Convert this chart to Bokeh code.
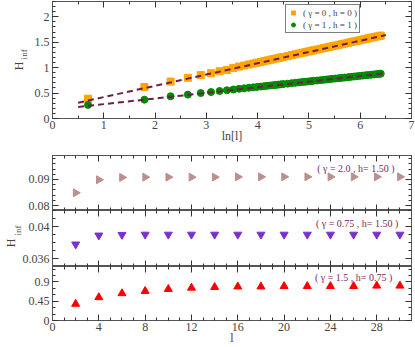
import math
import numpy as np
from bokeh.plotting import figure
from bokeh.models import Range1d, LinearAxis, FixedTicker, Legend, LegendItem, Label
from bokeh.layouts import column
from bokeh.embed import file_html
from bokeh.resources import INLINE

# ---------------- data ----------------
# top panel: subsystem sizes l and H_inf values
l_top = [2, 6, 10, 14, 18, 22, 26, 30, 34, 38, 42, 46, 50, 54, 58, 62, 66, 70, 74, 78,
         82, 86, 90, 98, 106, 114, 122, 130, 138, 146, 154, 162, 174, 186, 198, 210,
         222, 234, 250, 266, 282, 298, 318, 338, 358, 378, 402, 426, 450, 474, 502,
         530, 558, 586, 602]
h_g0 = [0.39, 0.62, 0.725, 0.80, 0.855, 0.89, 0.93, 0.955, 0.995, 1.020, 1.042, 1.062,
        1.080, 1.097, 1.113, 1.128, 1.142, 1.155, 1.167, 1.179, 1.190, 1.200, 1.210,
        1.229, 1.246, 1.262, 1.277, 1.291, 1.304, 1.317, 1.329, 1.340, 1.356, 1.370,
        1.384, 1.397, 1.409, 1.421, 1.435, 1.449, 1.462, 1.474, 1.489, 1.502, 1.515,
        1.527, 1.540, 1.553, 1.565, 1.577, 1.590, 1.601, 1.613, 1.624, 1.629]
h_g1 = [0.267, 0.37, 0.437, 0.47, 0.50, 0.52, 0.54, 0.555, 0.571, 0.583, 0.594, 0.604,
        0.612, 0.621, 0.628, 0.636, 0.643, 0.649, 0.655, 0.661, 0.666, 0.671, 0.676,
        0.685, 0.694, 0.701, 0.709, 0.716, 0.722, 0.728, 0.734, 0.740, 0.747, 0.754,
        0.761, 0.767, 0.774, 0.779, 0.786, 0.793, 0.799, 0.805, 0.812, 0.819, 0.825,
        0.831, 0.838, 0.844, 0.850, 0.855, 0.862, 0.867, 0.873, 0.878, 0.881]
fit_x = [0.5, 6.5]
fit_g0 = [0.31, 1.64]
fit_g1 = [0.227, 0.89]

# bottom panels
l_bot = [2, 4, 6, 8, 10, 12, 14, 16, 18, 20, 22, 24, 26, 28, 30]
h_a = [0.0849, 0.0899, 0.0908, 0.0909, 0.0909, 0.0909, 0.0909, 0.091, 0.091, 0.091,
       0.091, 0.091, 0.091, 0.091, 0.091]
h_b = [0.03777, 0.03889, 0.03897, 0.0390, 0.0390, 0.0390, 0.0390, 0.0390, 0.0390,
       0.0390, 0.0390, 0.0390, 0.0390, 0.0390, 0.0390]
h_c = [0.386, 0.54, 0.633, 0.686, 0.732, 0.762, 0.778, 0.79, 0.79, 0.80, 0.80, 0.80,
       0.80, 0.81, 0.81]

# ticks
top_x_ticks = [0, 1, 2, 3, 4, 5, 6, 7]
top_x_labels = ["0", "1", "2", "3", "4", "5", "6", "7"]
top_y_ticks = [0, 0.5, 1, 1.5, 2]
top_y_labels = ["0", "0.5", "1", "1.5", "2"]
bot_x_ticks = [0, 4, 8, 12, 16, 20, 24, 28]
bot_x_labels = ["0", "4", "8", "12", "16", "20", "24", "28"]
a_ticks = [0.08, 0.09]
a_labels = ["0.08", "0.09"]
b_ticks = [0.036, 0.04]
b_labels = ["0.036", "0.04"]
c_ticks = [0, 0.45, 0.9]
c_labels = ["0", "0.45", "0.9"]

leg_g0 = "( γ = 0 , h = 0 )"
leg_g1 = "( γ = 1 , h = 1 )"
txt_a = "( γ = 2.0 , h= 1.50 )"
txt_b = "( γ = 0.75 , h= 1.50 )"
txt_c = "( γ = 1.5 , h= 0.75 )"
x_title_top = "ln[l]"
x_title_bot = "l"
y_main = "H"
y_sub = "inf"

# ---------------- style ----------------
SERIF = "Liberation Serif"
AXC = "#555555"
TICKC = "#333333"
FITC = "#6e1d4e"
TXTC = "#7b1f5a"
NB = "\u00a0"


def minor(lo, hi, step):
    return [float(v) for v in np.round(np.arange(lo, hi + step / 2, step), 5)]


def style_axis(ax, ticks, labels, minor_ticks, standoff=3):
    ax.ticker = FixedTicker(ticks=ticks, minor_ticks=minor_ticks)
    ax.major_tick_in = 6
    ax.major_tick_out = 0
    ax.minor_tick_in = 3
    ax.minor_tick_out = 0
    ax.axis_line_color = AXC
    ax.major_tick_line_color = TICKC
    ax.minor_tick_line_color = TICKC
    ax.major_label_overrides = dict(zip(ticks, labels))
    ax.major_label_text_font = SERIF
    ax.major_label_text_font_size = "12px"
    ax.major_label_standoff = standoff


def mirror(p, side, ticks, minor_ticks):
    # label-free tick rows on frame edges
    for pos, ln in ((ticks, 6), (minor_ticks, 3)):
        ax = LinearAxis(ticker=FixedTicker(ticks=[], minor_ticks=pos))
        ax.minor_tick_in = ln
        ax.minor_tick_out = 0
        ax.major_tick_in = 0
        ax.major_tick_out = 0
        ax.major_label_standoff = 0
        ax.axis_line_color = AXC
        ax.minor_tick_line_color = TICKC
        p.add_layout(ax, side)


def y_title(p, main_axis, sub_text, sub_standoff, h_text, h_standoff):
    # subscript as the axis label of the tick axis, "H" on an outer tick-free axis
    main_axis.axis_label = sub_text
    main_axis.axis_label_text_font = SERIF
    main_axis.axis_label_text_font_size = "9px"
    main_axis.axis_label_text_font_style = "normal"
    main_axis.axis_label_standoff = sub_standoff
    hx = LinearAxis(ticker=FixedTicker(ticks=[], minor_ticks=[]))
    hx.axis_line_color = None
    hx.major_tick_in = 0
    hx.major_tick_out = 0
    hx.major_label_standoff = 0
    hx.axis_label = h_text
    hx.axis_label_text_font = SERIF
    hx.axis_label_text_font_size = "12px"
    hx.axis_label_text_font_style = "normal"
    hx.axis_label_standoff = h_standoff
    p.add_layout(hx, "left")


def make_fig(h, xr, yr, left=44, right=4, top=0, bottom=0, x_loc="below"):
    p = figure(width=415, height=h, x_range=xr, y_range=yr, output_backend="svg",
               toolbar_location=None, min_border_left=left, min_border_right=right,
               min_border_top=top, min_border_bottom=bottom, x_axis_location=x_loc)
    p.xgrid.visible = False
    p.ygrid.visible = False
    p.outline_line_color = AXC
    p.background_fill_color = "white"
    p.border_fill_color = "white"
    return p


# ---------------- top panel ----------------
x_top = [math.log(v) for v in l_top]
p1 = make_fig(155, Range1d(0, 7), Range1d(0, 2.3), right=4, top=1, bottom=37)
tx_minor = minor(0, 7, 0.5)
ty_minor = minor(0, 2.3, 0.1)
xa1 = p1.xaxis[0]
ya1 = p1.yaxis[0]
style_axis(xa1, top_x_ticks, top_x_labels, tx_minor, standoff=2)
style_axis(ya1, top_y_ticks, top_y_labels, ty_minor)
xa1.axis_label = x_title_top
xa1.axis_label_text_font = SERIF
xa1.axis_label_text_font_size = "12px"
xa1.axis_label_text_font_style = "normal"
xa1.axis_label_standoff = -3
mirror(p1, "above", top_x_ticks, tx_minor)
mirror(p1, "right", top_y_ticks, ty_minor)
y_title(p1, ya1, NB * 5 + y_sub, 3, y_main + NB * 4, -10)

r0 = p1.scatter(x_top, h_g0, marker="square", size=7, fill_color="#ffa500",
                line_color="#ffa500")
r1 = p1.scatter(x_top, h_g1, marker="circle", size=7, fill_color="#008c00",
                line_color="#008c00")
p1.line(fit_x, fit_g0, line_color=FITC, line_width=2, line_dash="6 4")
p1.line(fit_x, fit_g1, line_color=FITC, line_width=2, line_dash="6 4")

legend = Legend(items=[LegendItem(label=leg_g0, renderers=[r0]),
                       LegendItem(label=leg_g1, renderers=[r1])],
                location=(233, 85))
legend.label_text_font = SERIF
legend.label_text_font_size = "9px"
legend.border_line_color = "black"
legend.border_line_width = 1
legend.padding = 2
legend.spacing = 1
legend.margin = 0
legend.label_height = 11
legend.glyph_height = 11
legend.glyph_width = 10
legend.label_standoff = 5
legend.label_width = 10
p1.add_layout(legend)

# ---------------- bottom panels ----------------
xr = Range1d(0, 31)
bx_minor = minor(0, 31, 1)


def bottom_panel(h, yr, ticks, labels, mticks, bottom, show_x):
    p = make_fig(h, xr, yr, right=3, top=0, bottom=bottom,
                 x_loc="below" if show_x else None)
    ya = p.yaxis[0]
    style_axis(ya, ticks, labels, mticks)
    xa = None
    if show_x:
        xa = p.xaxis[0]
        style_axis(xa, bot_x_ticks, bot_x_labels, bx_minor, standoff=2)
    else:
        mirror(p, "below", bot_x_ticks, bx_minor)
    mirror(p, "above", bot_x_ticks, bx_minor)
    mirror(p, "right", ticks, mticks)
    return p, ya, xa


p2, ya2, _ = bottom_panel(55, Range1d(0.0781, 0.0992), a_ticks, a_labels,
                          minor(0.078, 0.098, 0.002), 0, False)
p2.scatter(l_bot, h_a, marker="triangle", angle=-math.pi / 2, size=8,
           fill_color="#bc8f8f", line_color="#bc8f8f")
p2.add_layout(Label(x=26.2, y=0.0942, text=txt_a, text_align="center",
                    text_baseline="middle", text_font=SERIF, text_font_size="10px",
                    text_color=TXTC))

p3, ya3, _ = bottom_panel(56, Range1d(0.035, 0.042), b_ticks, b_labels,
                          minor(0.035, 0.042, 0.001), 0, False)
p3.scatter(l_bot, h_b, marker="inverted_triangle", size=8,
           fill_color="#7a30d0", line_color="#7a30d0")
p3.add_layout(Label(x=26.3, y=0.0404, text=txt_b, text_align="center",
                    text_baseline="middle", text_font=SERIF, text_font_size="10px",
                    text_color=TXTC))
y_title(p3, ya3, NB * 7 + y_sub, -3, y_main + NB * 3, -8)

p4, ya4, xa4 = bottom_panel(81, Range1d(0, 1.26), c_ticks, c_labels,
                            minor(0, 1.2, 0.15), 26, True)
p4.scatter(l_bot, h_c, marker="triangle", size=8,
           fill_color="#ff0000", line_color="#ff0000")
p4.add_layout(Label(x=26.0, y=1.0, text=txt_c, text_align="center",
                    text_baseline="middle", text_font=SERIF, text_font_size="10px",
                    text_color=TXTC))
xa4.axis_label = x_title_bot
xa4.axis_label_text_font = SERIF
xa4.axis_label_text_font_size = "12px"
xa4.axis_label_text_font_style = "normal"
xa4.axis_label_standoff = -3

layout = column(p1, p2, p3, p4, spacing=0)
open("out.html", "w").write(file_html(layout, INLINE))
